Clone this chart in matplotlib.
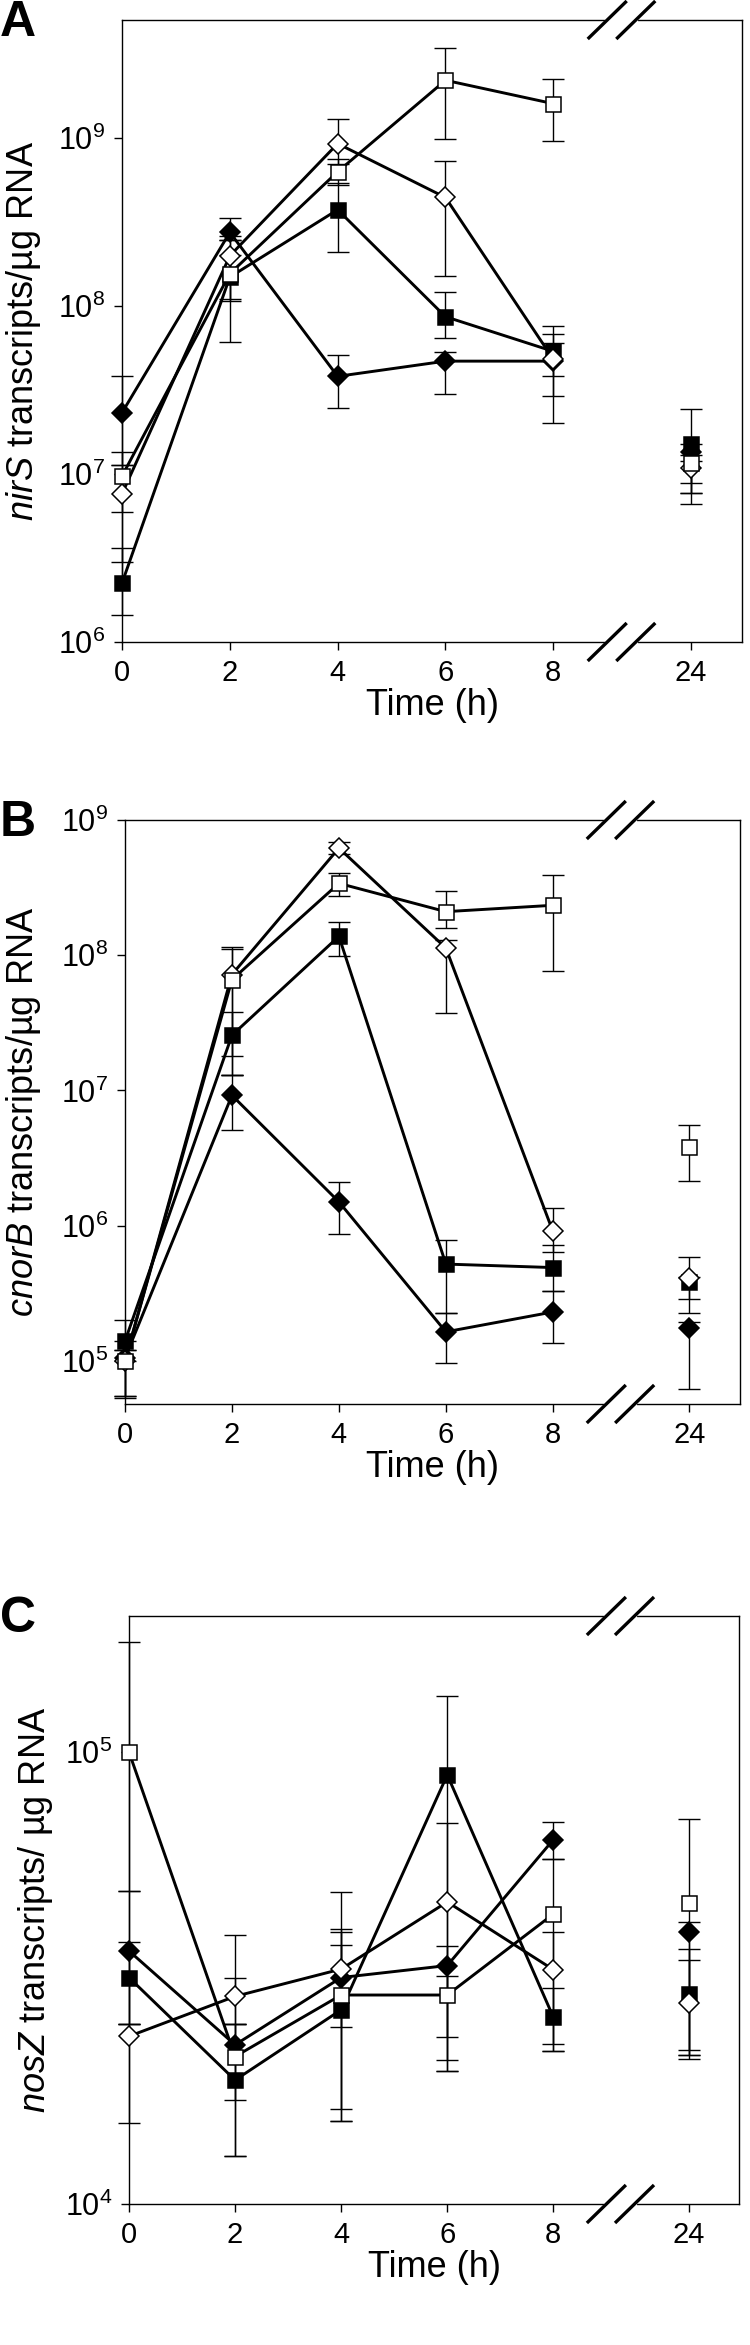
import numpy as np
import matplotlib
matplotlib.use('Agg')
import matplotlib.pyplot as plt
from matplotlib.ticker import FixedLocator, LogFormatterSciNotation, NullLocator

plt.rcParams['font.family'] = ['Liberation Sans', 'DejaVu Sans']
plt.rcParams['mathtext.fontset'] = 'custom'
plt.rcParams['mathtext.rm'] = 'Liberation Sans'
plt.rcParams['mathtext.it'] = 'Liberation Sans:italic'

### Data
hours = [0, 2, 4, 6, 8, 24]
hour_labels = ['0', '2', '4', '6', '8', '24']

# A - nirS
nirS_cdia    = [2.31e7, 2.73e8, 3.8e7, 4.68e7, 4.68e7, 1.34e7]
nirS_cdia_lo = [1.13e7, 2.45e8, 2.47e7, 3.0e7, 2.9e7, 7.7e6]
nirS_cdia_hi = [3.8e7, 3.3e8, 5.1e7, 5.3e7, 6.0e7, 1.5e7]
nirS_csq     = [2.24e6, 1.48e8, 3.72e8, 8.6e7, 5.35e7, 1.5e7]
nirS_csq_lo  = [1.45e6, 6.05e7, 2.1e8, 6.4e7, 3.8e7, 8.8e6]
nirS_csq_hi  = [3.6e6, 2.0e8, 5.35e8, 1.2e8, 7.6e7, 2.43e7]
nirS_odia    = [7.6e6, 1.98e8, 9.2e8, 4.4e8, 4.8e7, 1.08e7]
nirS_odia_lo = [3.0e6, 1.06e8, 7.0e8, 1.5e8, 2.0e7, 7.7e6]
nirS_odia_hi = [1.13e7, 2.6e8, 1.29e9, 7.3e8, 6.8e7, 1.2e7]
nirS_osq     = [9.7e6, 1.55e8, 6.26e8, 2.19e9, 1.59e9, 1.16e7]
nirS_osq_lo  = [5.9e6, 1.1e8, 5.2e8, 9.8e8, 9.6e8, 6.65e6]
nirS_osq_hi  = [1.35e7, 2.45e8, 7.5e8, 3.4e9, 2.22e9, 1.3e7]

# B - cnorB
cnorB_cdia    = [1.05e5, 9.2e6, 1.5e6, 1.64e5, 2.3e5, 1.74e5]
cnorB_cdia_lo = [5.5e4, 5.1e6, 8.7e5, 9.6e4, 1.36e5, 6.2e4]
cnorB_cdia_hi = [1.4e5, 1.31e7, 2.1e6, 2.26e5, 3.3e5, 1.94e5]
cnorB_csq     = [1.4e5, 2.56e7, 1.38e8, 5.2e5, 4.9e5, 3.8e5]
cnorB_csq_lo  = [1.0e5, 1.79e7, 9.8e7, 2.26e5, 3.3e5, 2.86e5]
cnorB_csq_hi  = [2.0e5, 3.83e7, 1.77e8, 7.9e5, 7.2e5, 4.2e5]
cnorB_odia    = [1.0e5, 7.2e7, 6.2e8, 1.13e8, 9.1e5, 4.1e5]
cnorB_odia_lo = [5.5e4, 1.3e7, 5.6e8, 3.76e7, 6.4e5, 2.26e5]
cnorB_odia_hi = [1.2e5, 1.12e8, 6.9e8, 1.3e8, 1.36e6, 5.9e5]
cnorB_osq     = [1.0e5, 6.6e7, 3.4e8, 2.1e8, 2.34e8, 3.8e6]
cnorB_osq_lo  = [5.3e4, 1.3e7, 2.75e8, 1.6e8, 7.65e7, 2.14e6]
cnorB_osq_hi  = [1.2e5, 1.16e8, 4.07e8, 2.99e8, 3.9e8, 5.57e6]

# C - nosZ
nosZ_cdia    = [3.63e4, 2.25e4, 3.17e4, 3.37e4, 6.4e4, 3.99e4]
nosZ_cdia_lo = [2.5e4, 1.7e4, 1.62e4, 1.97e4, 5.8e4, 2.14e4]
nosZ_cdia_hi = [4.93e4, 3.17e4, 4.06e4, 3.72e4, 7.0e4, 4.2e4]
nosZ_csq     = [3.17e4, 1.88e4, 2.69e4, 8.9e4, 2.59e4, 2.91e4]
nosZ_csq_lo  = [2.5e4, 1.28e4, 1.53e4, 2.08e4, 2.18e4, 2.09e4]
nosZ_csq_hi  = [3.79e4, 2.5e4, 3.74e4, 1.33e5, 3.0e4, 3.66e4]
nosZ_odia    = [2.35e4, 2.88e4, 3.31e4, 4.66e4, 3.3e4, 2.78e4]
nosZ_odia_lo = [1.51e4, 2.5e4, 2.47e4, 2.34e4, 2.18e4, 2.14e4]
nosZ_odia_hi = [2.5e4, 3.93e4, 4.9e4, 6.97e4, 4.0e4, 3.47e4]
nosZ_osq     = [1.0e5, 2.12e4, 2.9e4, 2.9e4, 4.38e4, 4.64e4]
nosZ_osq_lo  = [4.93e4, 1.28e4, 1.53e4, 1.97e4, 2.26e4, 2.19e4]
nosZ_osq_hi  = [1.75e5, 2.5e4, 4.0e4, 3.2e4, 5.8e4, 7.1e4]

### Broken time axis: 24 h is drawn after the break
def xpos(t):
    return np.array([tt if tt <= 8 else 10.55 for tt in t], dtype=float)

x_max = 11.5
breaks = [9.0, 9.53]

def draw_panel(ax, series, ylim, decades, gene, letter, lab_x, sep=''):
    x = xpos(hours)
    styles = [('D', 'black', 10.2), ('s', 'black', 10.8),
              ('D', 'white', 10.2), ('s', 'white', 10.8)]
    for (vals, lo, hi), (mk, fc, ms) in zip(series, styles):
        vals = np.array(vals); lo = np.array(lo); hi = np.array(hi)
        ax.errorbar(x, vals, yerr=[vals - lo, hi - vals], fmt='none',
                    ecolor='black', elinewidth=1.0, capsize=8, capthick=1.0,
                    zorder=2, clip_on=False)
    for (vals, lo, hi), (mk, fc, ms) in zip(series, styles):
        ax.plot(x[:5], vals[:5], '-', color='black', lw=2.1, zorder=3,
                clip_on=False)
        ax.plot(x, vals, mk, mfc=fc, mec='black', mew=1.1, ms=ms,
                ls='none', zorder=4, clip_on=False)

    ax.set_yscale('log')
    ax.set_ylim(*ylim)
    ax.set_xlim(0, x_max)
    ax.yaxis.set_major_locator(FixedLocator([10.0**d for d in decades]))
    ax.yaxis.set_major_formatter(LogFormatterSciNotation())
    ax.yaxis.set_minor_locator(NullLocator())
    ax.set_xticks(x)
    ax.set_xticklabels(hour_labels)
    ax.tick_params(direction='out', length=6, width=1.0, pad=6)
    ax.tick_params(axis='x', labelsize=21)
    ax.tick_params(axis='y', labelsize=22)
    for sp in ax.spines.values():
        sp.set_linewidth(1.0)

    # axis break marks
    bb = ax.get_window_extent()
    dx = 19.5 / bb.width
    dy = 19.0 / bb.height
    c1, c2 = breaks[0] / x_max, breaks[1] / x_max
    for yy in (0, 1):
        ax.plot([c1, c2], [yy, yy], color='white', lw=3, transform=ax.transAxes,
                clip_on=False, zorder=6)
        for c in (c1, c2):
            ax.plot([c - dx, c + dx], [yy - dy, yy + dy], color='black', lw=2.4,
                    transform=ax.transAxes, clip_on=False, zorder=7,
                    solid_capstyle='butt')

    ax.set_xlabel('Time (h)', fontsize=26, labelpad=1)
    pos = ax.get_position()
    fig.text(lab_x, pos.y0 + pos.height / 2,
             r'$\mathit{' + gene + r'}$ transcripts/' + sep + 'µg RNA',
             rotation=90, ha='center', va='center', fontsize=26)
    fig.text(0.0, pos.y1 + 0.0085, letter, fontsize=36, fontweight='bold',
             ha='left', va='top')
    return ax


fig = plt.figure(figsize=(7.5, 23.45), dpi=100)
W, H = 750.0, 2345.0

def box(l, r, t, b):
    return [l / W, 1 - b / H, (r - l) / W, (b - t) / H]

axA = fig.add_axes(box(122, 742, 20, 642))
axB = fig.add_axes(box(125, 740, 820, 1404))
axC = fig.add_axes(box(129, 739, 1616, 2204))

draw_panel(axA, [(nirS_cdia, nirS_cdia_lo, nirS_cdia_hi),
                 (nirS_csq, nirS_csq_lo, nirS_csq_hi),
                 (nirS_odia, nirS_odia_lo, nirS_odia_hi),
                 (nirS_osq, nirS_osq_lo, nirS_osq_hi)],
           (1e6, 5e9), [6, 7, 8, 9], 'nirS', 'A', 24 / W)
draw_panel(axB, [(cnorB_cdia, cnorB_cdia_lo, cnorB_cdia_hi),
                 (cnorB_csq, cnorB_csq_lo, cnorB_csq_hi),
                 (cnorB_odia, cnorB_odia_lo, cnorB_odia_hi),
                 (cnorB_osq, cnorB_osq_lo, cnorB_osq_hi)],
           (4.8e4, 1e9), [5, 6, 7, 8, 9], 'cnorB', 'B', 24 / W)
draw_panel(axC, [(nosZ_cdia, nosZ_cdia_lo, nosZ_cdia_hi),
                 (nosZ_csq, nosZ_csq_lo, nosZ_csq_hi),
                 (nosZ_odia, nosZ_odia_lo, nosZ_odia_hi),
                 (nosZ_osq, nosZ_osq_lo, nosZ_osq_hi)],
           (1e4, 2e5), [4, 5], 'nosZ', 'C', 36 / W, sep=' ')

plt.savefig('out.png', dpi=100)
